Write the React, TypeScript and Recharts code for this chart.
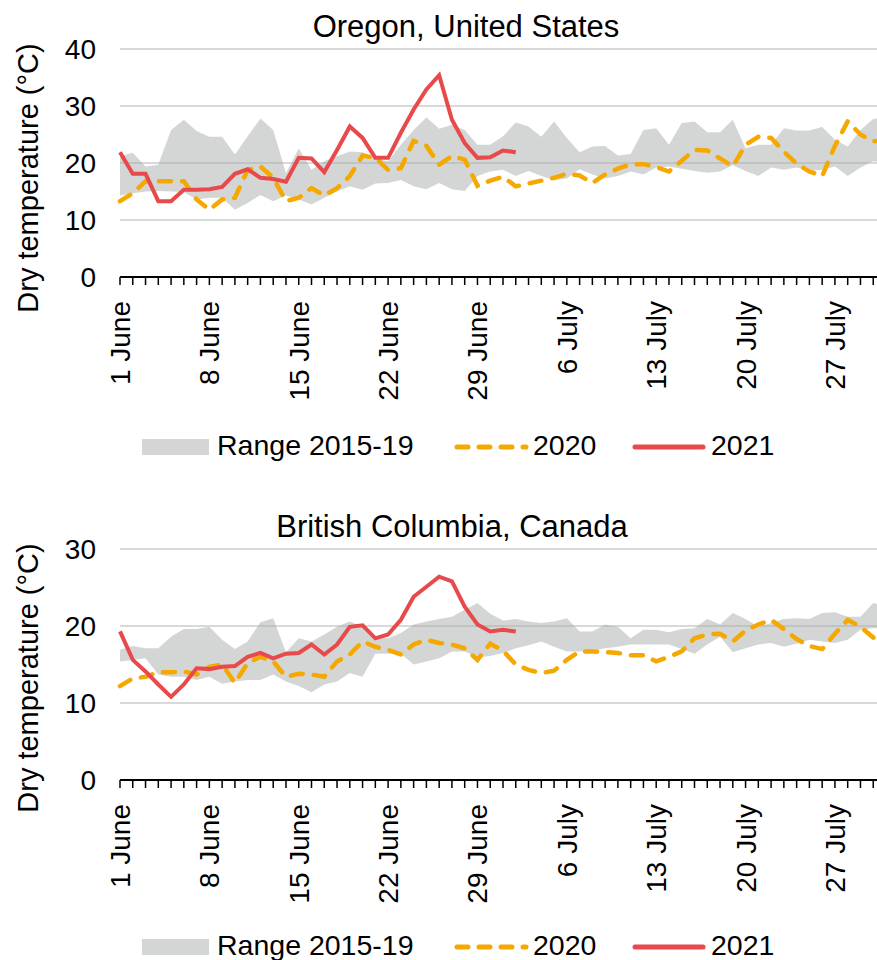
import { ComposedChart, Area, Line, XAxis, YAxis, CartesianGrid } from "recharts";

const FONT = '"Liberation Sans", Arial, Helvetica, sans-serif';

// days after 1 June that carry a label
const tickDays = [0, 7, 14, 21, 28, 35, 42, 49, 56];
const tickLabels = ["1 June", "8 June", "15 June", "22 June", "29 June", "6 July", "13 July", "20 July", "27 July"];

// Oregon, United States (1 June .. 31 July)
const oregonLow = [
  14.3, 14.7, 15.0, 15.1, 15.0, 14.9, 13.6, 13.9, 13.9, 11.8, 13.0, 14.4, 13.3, 14.3, 13.6, 12.7,
  13.9, 15.0, 15.9, 15.3, 16.4, 16.5, 17.0, 15.9, 15.4, 16.5, 15.4, 15.1, 17.7, 18.5, 18.8,
  17.7, 18.6, 17.7, 17.0, 17.3, 18.9, 18.0, 17.3, 17.7, 18.5, 18.0, 19.2, 19.4, 19.0, 18.6,
  18.3, 18.5, 19.6, 18.6, 17.7, 19.2, 18.8, 19.2, 18.6, 18.8, 19.4, 17.7, 19.2, 20.3, 20.0,
];
const oregonHigh = [
  21.2, 21.8, 19.4, 19.7, 25.8, 27.6, 25.6, 24.6, 24.6, 21.5, 24.7, 27.8, 25.8, 18.2, 22.6, 18.8,
  20.3, 21.2, 22.0, 21.9, 20.8, 20.3, 23.2, 25.8, 28.0, 26.0, 26.7, 25.8, 23.2, 23.2, 24.7,
  27.1, 26.4, 24.6, 27.3, 24.4, 21.9, 22.9, 23.0, 21.3, 21.6, 25.8, 26.1, 23.2, 27.0, 27.3,
  25.4, 25.4, 27.6, 22.6, 23.2, 23.2, 26.1, 25.7, 25.7, 26.3, 24.1, 22.9, 25.8, 27.7, 28.0,
];
const oregon2020 = [
  13.3, 14.7, 16.8, 16.8, 16.8, 16.8, 13.6, 11.8, 13.6, 13.9, 18.8, 19.4, 17.4, 13.3, 13.9, 15.6,
  14.3, 15.6, 17.7, 21.3, 20.9, 18.8, 19.1, 23.9, 23.0, 19.7, 21.2, 20.6, 16.0, 16.9, 17.6,
  15.9, 16.4, 16.9, 17.4, 18.1, 17.8, 16.5, 18.0, 19.0, 19.8, 19.8, 19.3, 18.5, 20.4, 22.3,
  22.2, 20.8, 19.4, 23.2, 24.6, 24.4, 22.0, 19.9, 18.5, 17.7, 23.0, 27.3, 25.0, 23.8, 24.0,
];
const oregon2021 = [
  21.9, 18.1, 18.1, 13.3, 13.3, 15.3, 15.3, 15.4, 15.8, 18.1, 18.9, 17.4, 17.2, 16.7, 20.9, 20.8,
  18.4, 22.3, 26.4, 24.4, 20.9, 20.9, 25.3, 29.4, 32.9, 35.4, 27.6, 23.5, 20.9, 21.0, 22.2, 21.9,
];

// British Columbia, Canada
const bcLow = [
  15.4, 15.6, 15.8, 13.7, 13.4, 13.4, 13.0, 13.4, 12.5, 12.8, 13.0, 13.0, 13.7, 12.8, 12.2, 11.4,
  12.4, 12.8, 13.9, 13.4, 16.4, 16.4, 16.4, 15.0, 15.4, 15.8, 16.7, 16.7, 15.9, 16.1, 16.5,
  17.1, 17.5, 18.0, 17.3, 16.7, 16.7, 16.8, 17.1, 17.3, 17.6, 17.6, 17.6, 17.6, 17.0, 16.4,
  17.6, 18.6, 16.6, 17.1, 17.6, 17.8, 17.3, 17.7, 18.2, 18.0, 17.8, 18.2, 19.5, 19.7, 19.7,
];
const bcHigh = [
  16.9, 17.4, 17.1, 17.1, 18.6, 19.6, 19.6, 19.9, 18.2, 17.0, 18.0, 20.5, 21.0, 16.6, 18.4, 18.0,
  18.9, 19.9, 20.6, 19.9, 18.6, 18.4, 19.1, 20.2, 20.6, 20.9, 21.2, 22.1, 23.0, 21.6, 20.7,
  20.9, 20.6, 20.4, 20.6, 21.0, 19.3, 19.3, 20.2, 19.9, 18.4, 19.5, 19.5, 19.2, 19.6, 19.7,
  20.9, 20.2, 21.7, 20.9, 19.9, 20.4, 20.9, 21.0, 20.9, 21.7, 21.8, 21.2, 21.2, 23.0, 22.5,
];
const bc2020 = [
  12.2, 13.2, 13.4, 14.0, 14.0, 14.1, 13.7, 14.7, 15.0, 12.6, 15.2, 16.0, 15.4, 13.4, 13.8, 13.7,
  13.4, 15.4, 16.3, 18.0, 17.3, 16.9, 16.3, 17.6, 18.2, 17.8, 17.6, 17.1, 15.6, 17.7, 16.8,
  15.0, 14.3, 13.9, 14.2, 15.6, 16.7, 16.7, 16.6, 16.5, 16.2, 16.2, 15.4, 16.0, 16.7, 18.4,
  18.9, 19.0, 18.0, 19.4, 20.2, 20.8, 19.6, 18.3, 17.4, 17.0, 19.0, 20.8, 19.9, 18.5, 18.7,
];
const bc2021 = [
  19.3, 15.6, 14.1, 12.4, 10.8, 12.4, 14.5, 14.4, 14.7, 14.8, 16.0, 16.5, 15.8, 16.4, 16.5, 17.6,
  16.3, 17.6, 19.9, 20.1, 18.4, 18.9, 20.8, 23.8, 25.1, 26.4, 25.8, 22.5, 20.2, 19.3, 19.5, 19.3,
];

const RED = "#e8494b";
const ORANGE = "#f5a800";
const BAND = "#a9adad";

function buildRows(low: number[], high: number[], y2020: number[], y2021: number[]) {
  return low.map((lo, i) => ({
    day: i,
    range: [lo, high[i]],
    y2020: y2020[i],
    y2021: i < y2021.length ? y2021[i] : null,
  }));
}

function LegendRow() {
  const text = { position: "absolute" as const, top: 0, fontSize: 28.5, lineHeight: "40px", color: "#000", whiteSpace: "nowrap" as const };
  return (
    <div style={{ position: "absolute", left: 0, top: 425, width: 877, height: 40 }}>
      <div style={{ position: "absolute", left: 142, top: 14, width: 67, height: 16, background: "#d4d6d6" }} />
      <span style={{ ...text, left: 217 }}>Range 2015-19</span>
      <svg style={{ position: "absolute", left: 452, top: 0 }} width={78} height={40}>
        <line x1={5} x2={74} y1={22} y2={22} stroke={ORANGE} strokeWidth={5} strokeDasharray="11 11" strokeLinecap="round" />
      </svg>
      <span style={{ ...text, left: 533 }}>2020</span>
      <svg style={{ position: "absolute", left: 630, top: 0 }} width={78} height={40}>
        <line x1={5} x2={73} y1={22} y2={22} stroke={RED} strokeWidth={5} strokeLinecap="round" />
      </svg>
      <span style={{ ...text, left: 711 }}>2021</span>
    </div>
  );
}

type PanelProps = {
  top: number;
  title: string;
  titleX: number;
  rows: ReturnType<typeof buildRows>;
  yMax: number;
  yTicks: number[];
  plotHeight: number;
};

function Panel({ top, title, titleX, rows, yMax, yTicks, plotHeight }: PanelProps) {
  const marginTop = 49;
  const axisY = marginTop + plotHeight;
  const labelTop = axisY + 24;

  const renderTick = (p: any) => {
    const idx = tickDays.indexOf(p.payload.value);
    if (idx < 0) return <g />;
    const tx = p.x + 10;
    return (
      <text
        x={tx}
        y={labelTop}
        transform={`rotate(-90 ${tx} ${labelTop})`}
        textAnchor="end"
        fontSize={28}
        fill="#000"
        fontFamily={FONT}
      >
        {tickLabels[idx]}
      </text>
    );
  };

  return (
    <div style={{ position: "absolute", left: 0, top, width: 877, height: 500 }}>
      <div
        style={{
          position: "absolute",
          left: titleX - 300,
          width: 600,
          top: 9,
          textAlign: "center",
          fontSize: 31,
          lineHeight: "36px",
          color: "#000",
        }}
      >
        {title}
      </div>
      <div
        style={{
          position: "absolute",
          left: 28,
          top: 178,
          transform: "translate(-50%, -50%) rotate(-90deg)",
          whiteSpace: "nowrap",
          fontSize: 29,
          lineHeight: 1,
          color: "#000",
        }}
      >
        Dry temperature (°C)
      </div>
      <ComposedChart
        width={900}
        height={axisY + 130}
        data={rows}
        margin={{ top: marginTop, right: 14, left: 40, bottom: 0 }}
      >
        <CartesianGrid horizontal vertical={false} stroke="#d9d9d9" strokeWidth={2} />
        <XAxis
          dataKey="day"
          type="number"
          domain={[0, 60]}
          ticks={rows.map((r) => r.day)}
          interval={0}
          height={130}
          axisLine={{ stroke: "#000", strokeWidth: 2 }}
          tickLine={{ stroke: "#000", strokeWidth: 1.5 }}
          tickSize={8}
          tick={renderTick}
        />
        <YAxis
          domain={[0, yMax]}
          ticks={yTicks}
          width={80}
          axisLine={false}
          tickLine={false}
          tickSize={0}
          tickMargin={24}
          tick={{ fontSize: 28, fill: "#000", fontFamily: FONT }}
        />
        <Area
          type="linear"
          dataKey="range"
          stroke="none"
          fill={BAND}
          fillOpacity={0.5}
          isAnimationActive={false}
        />
        <Line
          type="linear"
          dataKey="y2020"
          stroke={ORANGE}
          strokeWidth={4.5}
          strokeDasharray="12 11"
          strokeLinecap="round"
          dot={false}
          isAnimationActive={false}
        />
        <Line
          type="linear"
          dataKey="y2021"
          stroke={RED}
          strokeWidth={4}
          dot={false}
          isAnimationActive={false}
        />
      </ComposedChart>
      <LegendRow />
    </div>
  );
}

export default function App() {
  const oregonRows = buildRows(oregonLow, oregonHigh, oregon2020, oregon2021);
  const bcRows = buildRows(bcLow, bcHigh, bc2020, bc2021);
  return (
    <div
      style={{
        position: "fixed",
        left: 0,
        top: 0,
        width: 877,
        height: 960,
        overflow: "hidden",
        background: "#fff",
        fontFamily: FONT,
      }}
    >
      <Panel
        top={0}
        title="Oregon, United States"
        titleX={466}
        rows={oregonRows}
        yMax={40}
        yTicks={[0, 10, 20, 30, 40]}
        plotHeight={228}
      />
      <Panel
        top={500}
        title="British Columbia, Canada"
        titleX={452}
        rows={bcRows}
        yMax={30}
        yTicks={[0, 10, 20, 30]}
        plotHeight={231}
      />
    </div>
  );
}
